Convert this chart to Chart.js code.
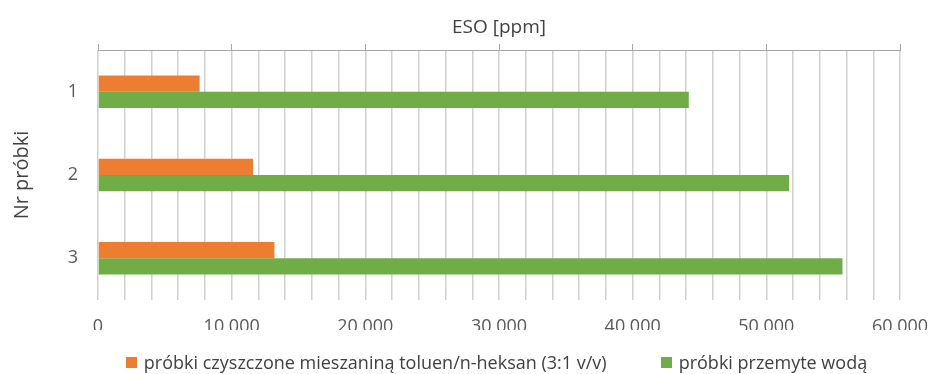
<!DOCTYPE html>
<html>
<head>
<meta charset="utf-8">
<script src="https://cdn.jsdelivr.net/npm/chart.js@4"></script>
<style>
  html, body { margin: 0; padding: 0; background: #fff; }
  #wrap { position: relative; width: 931px; height: 374px; }
  #legend {
    position: absolute; left: 62px; right: 0; top: 352px;
    display: flex; justify-content: center; align-items: center;
    font-family: "Open Sans", sans-serif; font-size: 18px; color: #404040;
    line-height: 20px;
  }
  #legend .item { display: flex; align-items: center; margin: 0 27px; }
  #legend .box { width: 11px; height: 11px; margin-right: 7px; }
</style>
</head>
<body>
<div id="wrap">
  <canvas id="chart" width="931" height="374"></canvas>
  <div id="legend"></div>
</div>
<script>
const categories = ["1", "2", "3"];
const seriesNames = [
  "próbki czyszczone mieszaniną toluen/n-heksan (3:1 v/v)",
  "próbki przemyte wodą",
];
const solventValues = [7600, 11600, 13200];
const waterValues = [44200, 51700, 55700];
const xTickValues = [0, 10000, 20000, 30000, 40000, 50000, 60000];

const colors = ["#ED7D31", "#70AD47"];
const font = "'Open Sans', sans-serif";

const fmt = (v) => String(v).replace(/\B(?=(\d{3})+(?!\d))/g, " ");

const chart = new Chart(document.getElementById("chart"), {
  type: "bar",
  data: {
    labels: categories,
    datasets: [
      { label: seriesNames[0], data: solventValues, backgroundColor: colors[0] },
      { label: seriesNames[1], data: waterValues, backgroundColor: colors[1] },
    ],
  },
  options: {
    indexAxis: "y",
    responsive: false,
    animation: false,
    categoryPercentage: 0.39,
    barPercentage: 1,
    layout: { padding: { left: 0, right: 31, top: 0, bottom: 44 } },
    scales: {
      x: {
        min: 0,
        max: 60000,
        border: { display: false },
        grid: { color: "#d0d0d0", lineWidth: 1.5, drawTicks: false },
        ticks: {
          stepSize: 2000,
          autoSkip: false,
          maxRotation: 0,
          padding: 16,
          color: "#595959",
          font: { family: font, size: 18 },
          callback: (v) => (xTickValues.includes(v) ? fmt(v) : ""),
        },
        afterFit: (s) => {
          s.height = 30;
          s.paddingLeft = 0;
          s.paddingRight = 0;
        },
      },
      x2: {
        type: "linear",
        axis: "x",
        position: "top",
        min: 0,
        max: 60000,
        border: { display: true, color: "#a6a6a6", width: 1 },
        grid: { drawOnChartArea: false, drawTicks: true, tickLength: 6, color: "#a6a6a6" },
        ticks: { stepSize: 10000, display: false },
        title: {
          display: true,
          text: "ESO [ppm]",
          color: "#404040",
          font: { family: font, size: 19 },
          padding: { top: 16, bottom: 0 },
        },
        afterFit: (s) => {
          s.height = 50;
          s.paddingLeft = 0;
          s.paddingRight = 0;
        },
      },
      y: {
        border: { display: false },
        grid: { display: false, drawTicks: false },
        ticks: {
          padding: 20,
          color: "#595959",
          font: { family: font, size: 18 },
        },
        title: {
          display: true,
          text: "Nr próbki",
          color: "#404040",
          font: { family: font, size: 20 },
          padding: { top: 10, bottom: 0 },
        },
        afterFit: (s) => { s.width = 98; },
      },
    },
    plugins: {
      legend: { display: false },
      tooltip: { enabled: false },
    },
  },
});

// legenda pod wykresem
const legendEl = document.getElementById("legend");
chart.data.datasets.forEach((ds) => {
  const item = document.createElement("div");
  item.className = "item";
  const box = document.createElement("span");
  box.className = "box";
  box.style.background = ds.backgroundColor;
  const txt = document.createElement("span");
  txt.textContent = ds.label;
  item.appendChild(box);
  item.appendChild(txt);
  legendEl.appendChild(item);
});
</script>
</body>
</html>
